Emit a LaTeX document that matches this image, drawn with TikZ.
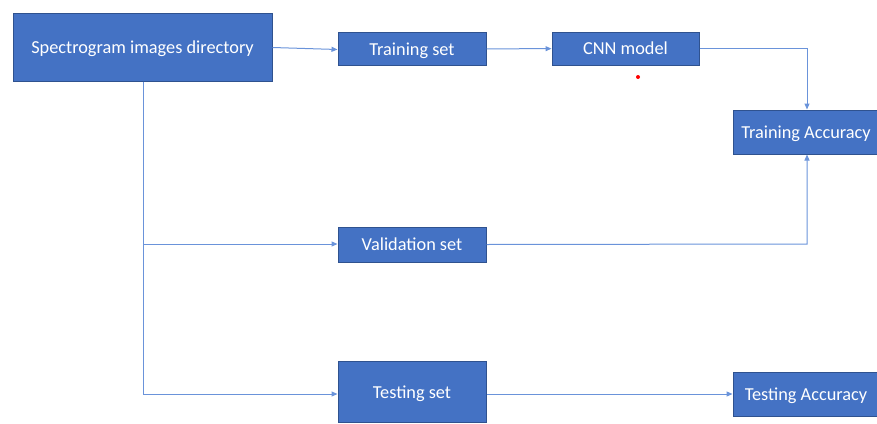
\documentclass[tikz,border=0pt]{standalone}
\usepackage{fontspec}
\setmainfont{Carlito}
\usetikzlibrary{arrows.meta}
\definecolor{boxfill}{HTML}{4472C4}
\definecolor{boxline}{HTML}{2F528F}
\definecolor{conn}{HTML}{6A93DA}
\begin{document}
\begin{tikzpicture}[x=1pt,y=-1pt,
  blk/.style={draw=boxline,line width=1pt,fill=boxfill,text=white,font=\fontsize{18.3}{20}\selectfont,inner sep=0pt,text depth=0pt},
  link/.style={draw=conn,line width=1pt,-{Triangle[length=6pt,width=5pt]}},
  plain/.style={draw=conn,line width=1pt}]
\useasboundingbox (0,0) rectangle (877,423);
\begin{scope}
\clip (0,0) rectangle (877,423);
\node[blk,minimum width=259pt,minimum height=68pt] (spec) at (142.5,47) {Spectrogram images directory};
\node[blk,minimum width=148pt,minimum height=33pt] (train) at (412,49) {Training set};
\node[blk,minimum width=147pt,minimum height=33pt] (cnn) at (625.5,48.5) {CNN model};
\node[blk,minimum width=146pt,minimum height=44pt] (tacc) at (806,132) {Training Accuracy};
\node[blk,minimum width=146pt,minimum height=44pt] (teacc) at (806,394) {Testing Accuracy};
\node[blk,minimum width=148pt,minimum height=35pt] (val) at (412,244.5) {Validation set};
\node[blk,minimum width=148pt,minimum height=61pt] (test) at (412,392) {Testing set};
\end{scope}
\coordinate (j1) at (143,244);
\coordinate (j2) at (143,394);
\coordinate (c1) at (807,48.5);
\coordinate (c2) at (807,244);
\draw[link] (spec.east |- 0,47.5) -- (train.west |- 0,49.5);
\draw[link] (train) -- (cnn);
\draw[plain] (spec.south -| j1) -- (j2);
\draw[link] (j1) -- (val.west |- j1);
\draw[link] (j2) -- (test.west |- j2);
\draw[link] (cnn.east) -- (c1) -- (c1 |- tacc.north);
\draw[link] (val.east) -- (c2) -- (c2 |- tacc.south);
\draw[link] (test.east |- j2) -- (teacc.west |- j2);
\fill[red] (638,77) circle (2pt);
\end{tikzpicture}
\end{document}
